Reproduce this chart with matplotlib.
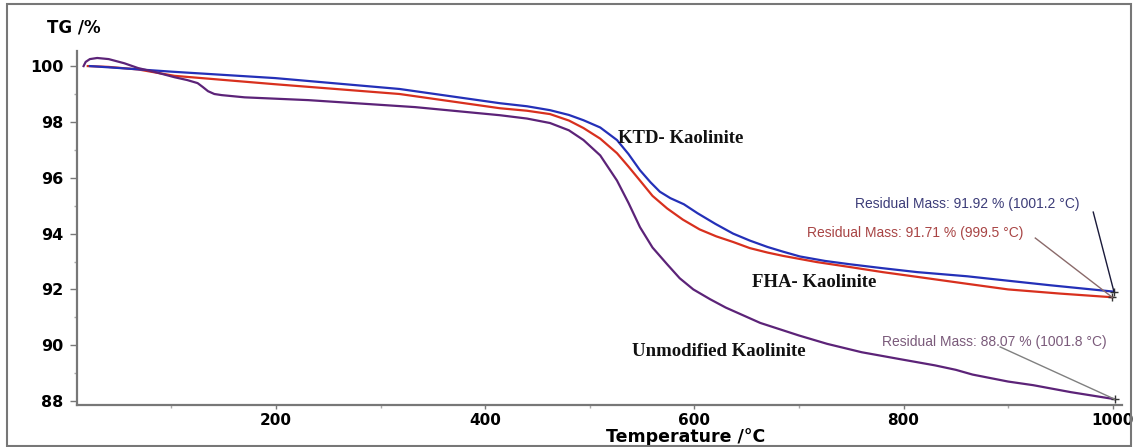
import numpy as np
import matplotlib.pyplot as plt
from matplotlib.patches import Rectangle

# lectures sur la figure (T en °C, masse en %)
t_ktd = [22, 50, 100, 199, 318, 414, 440, 462, 480, 494, 510, 526, 537, 548, 558, 567, 577, 590, 603, 620, 637, 653, 670, 685, 701, 725, 749, 780, 813, 861, 883, 940, 1001.2]
m_ktd = [100.0, 99.93, 99.8, 99.57, 99.18, 98.67, 98.56, 98.42, 98.25, 98.06, 97.8, 97.35, 96.85, 96.27, 95.84, 95.5, 95.27, 95.05, 94.73, 94.35, 94.0, 93.75, 93.52, 93.35, 93.18, 93.02, 92.9, 92.76, 92.62, 92.47, 92.38, 92.15, 91.92]

t_fha = [20, 40, 68, 103, 199, 318, 414, 440, 462, 480, 494, 510, 526, 537, 548, 560, 574, 589, 605, 621, 637, 653, 670, 685, 717, 749, 780, 813, 861, 900, 950, 999.5]
m_fha = [100.0, 99.97, 99.88, 99.65, 99.35, 99.0, 98.49, 98.4, 98.28, 98.05, 97.78, 97.4, 96.88, 96.4, 95.9, 95.35, 94.9, 94.5, 94.15, 93.9, 93.7, 93.48, 93.32, 93.2, 92.98, 92.8, 92.62, 92.45, 92.2, 92.0, 91.85, 91.72]

t_unm = [16, 18, 22, 29, 40, 55, 68, 85, 103, 115, 125, 130, 135, 141, 148, 170, 231, 333, 414, 440, 462, 480, 494, 510, 526, 537, 548, 560, 574, 586, 599, 615, 630, 645, 663, 700, 727, 760, 797, 830, 850, 866, 900, 924, 960, 1001.8]
m_unm = [100.0, 100.15, 100.25, 100.29, 100.25, 100.1, 99.93, 99.78, 99.6, 99.5, 99.39, 99.25, 99.1, 99.0, 98.96, 98.88, 98.78, 98.53, 98.24, 98.12, 97.96, 97.7, 97.35, 96.8, 95.9, 95.1, 94.23, 93.5, 92.9, 92.4, 92.0, 91.65, 91.35, 91.1, 90.8, 90.35, 90.05, 89.75, 89.5, 89.28, 89.12, 88.95, 88.7, 88.57, 88.32, 88.07]

yticks = [88, 90, 92, 94, 96, 98, 100]
xticks = [200, 400, 600, 800, 1000]

fig = plt.figure(figsize=(11.34, 4.47), dpi=100)
ax = fig.add_axes([77/1134, 1-405/447, (1122-77)/1134, (405-51)/447])

c_bleu = '#2430b8'
c_rouge = '#d8301e'
c_violet = '#5c2378'
ax.plot(t_fha, m_fha, color=c_rouge, lw=1.6, solid_joinstyle='round')
ax.plot(t_ktd, m_ktd, color=c_bleu, lw=1.6, solid_joinstyle='round')
ax.plot(t_unm, m_unm, color=c_violet, lw=1.6, solid_joinstyle='round')

# croix en fin de courbe
for t, m in [(t_ktd[-1], m_ktd[-1]), (t_fha[-1], m_fha[-1]), (t_unm[-1], m_unm[-1])]:
    ax.plot(t, m, marker='+', color='#333333', ms=6, mew=1)

ax.set_xlim(9.7, 1008.9)
ax.set_ylim(87.86, 100.54)
ax.set_xticks(xticks)
ax.set_xticks([100, 300, 500, 700, 900], minor=True)
ax.set_yticks(yticks)
ax.set_yticks([89, 91, 93, 95, 97, 99], minor=True)

for s in ['top', 'right']:
    ax.spines[s].set_visible(False)
for s in ['left', 'bottom']:
    ax.spines[s].set_color('#777777')
    ax.spines[s].set_linewidth(1.6)

ax.tick_params(axis='both', which='major', color='#777777', labelsize=11.5, width=1)
ax.tick_params(axis='x', which='major', labelsize=11)
ax.tick_params(axis='y', which='major', length=5, pad=5)
ax.tick_params(axis='x', which='major', length=3, pad=3)
ax.tick_params(which='minor', length=2.5, color='#aaaaaa', width=1)
for lab in ax.get_xticklabels() + ax.get_yticklabels():
    lab.set_fontweight('bold')
    lab.set_family('DejaVu Sans')

ax.set_xlabel('Temperature /°C', fontsize=12.5, fontweight='bold', family='DejaVu Sans')
ax.xaxis.set_label_coords(0.582, -0.064)
fig.text(47/1134, 1-27/447, 'TG /%', fontsize=12, fontweight='bold', family='DejaVu Sans', ha='left', va='center')

# noms des échantillons
serif = dict(fontsize=13.5, fontweight='bold', family='Liberation Serif', ha='left', va='center', color='#111111')
ax.text(527, 97.42, 'KTD- Kaolinite', **serif)
ax.text(655, 92.26, 'FHA- Kaolinite', **serif)
ax.text(540, 89.79, 'Unmodified Kaolinite', **serif)

# annotations masse résiduelle
ann = dict(fontsize=10, family='Liberation Sans', ha='left', va='center')
ax.text(753.7, 95.06, 'Residual Mass: 91.92 % (1001.2 °C)', color='#3c3c78', **ann)
ax.plot([981.4, t_ktd[-1]], [94.77, m_ktd[-1]], color='#1a1a3a', lw=1)
ax.text(707.8, 94.02, 'Residual Mass: 91.71 % (999.5 °C)', color='#a84444', **ann)
ax.plot([926, t_fha[-1]], [93.84, m_fha[-1]], color='#8a6a6a', lw=1)
ax.text(779.6, 90.11, 'Residual Mass: 88.07 % (1001.8 °C)', color='#7a5a7a', **ann)
ax.plot([892.4, t_unm[-1]], [89.94, m_unm[-1]], color='#808080', lw=1)

# cadre extérieur
fig.patches.append(Rectangle((7/1134, 1-446/447), (1131-7)/1134, (446-4)/447,
                             transform=fig.transFigure, fill=False, edgecolor='#777777', lw=1.5))

fig.savefig('out.png', dpi=100)
